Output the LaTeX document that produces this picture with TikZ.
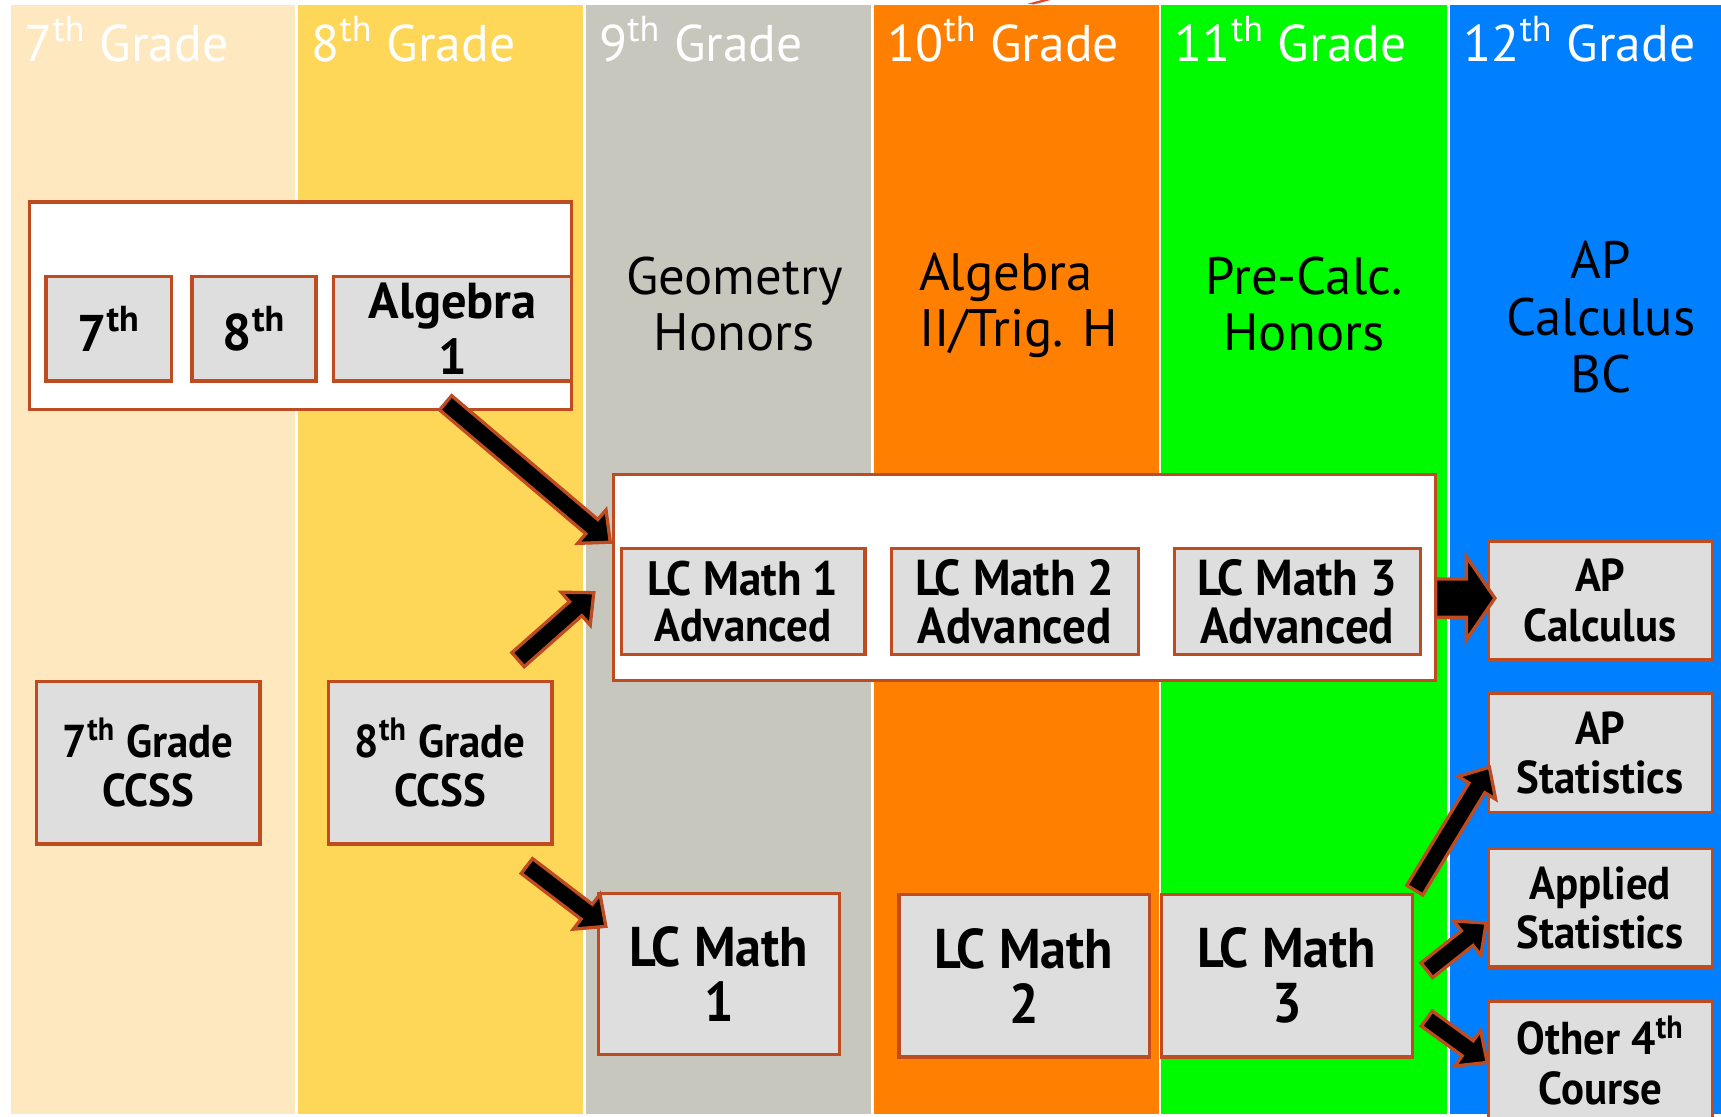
\documentclass[tikz,border=0pt]{standalone}
\usepackage{fontspec}
\setmainfont{PT Sans}
\newfontfamily\cf[FakeStretch=0.93]{PT Sans}
\usetikzlibrary{calc}
\definecolor{cA}{RGB}{254,232,192}
\definecolor{cB}{RGB}{254,215,88}
\definecolor{cC}{RGB}{199,199,190}
\definecolor{cD}{RGB}{255,127,0}
\definecolor{cE}{RGB}{0,250,0}
\definecolor{cF}{RGB}{0,128,255}
\definecolor{boxfill}{RGB}{222,222,222}
\definecolor{edgec}{RGB}{190,76,32}
\definecolor{redmark}{RGB}{230,70,40}
% #2 tail, #3 tip, #4 half shaft width, #5 half head width, #6 head length
\newcommand{\blockarrow}[6][]{%
  \coordinate (baC) at ($(#3)!#6!(#2)$);
  \filldraw[blk,#1] ($(#2)!#4!90:(#3)$) -- ($(baC)!#4!90:(#3)$) -- ($(baC)!#5!90:(#3)$) -- (#3)
    -- ($(baC)!#5!-90:(#3)$) -- ($(baC)!#4!-90:(#3)$) -- ($(#2)!#4!-90:(#3)$) -- cycle;}
\begin{document}
\begin{tikzpicture}[x=0.5pt,y=-0.5pt,
  hdr/.style={anchor=base west, inner sep=0, text=white, font=\fontsize{23.5}{28}\selectfont},
  coltext/.style={align=center, inner sep=0, font=\fontsize{24}{25.5}\selectfont},
  frame/.style={draw=edgec, fill=white, line width=1.5pt, inner sep=0},
  course/.style={draw=edgec, fill=boxfill, line width=1.5pt, inner sep=0, align=center},
  option/.style={course, minimum width=102pt, minimum height=54pt, font=\cf\bfseries\fontsize{21}{22.5}\selectfont},
  blk/.style={fill=black, draw=edgec, line width=1.5pt, line join=miter}
]
\useasboundingbox (0,0) rectangle (1568,1017);
\fill[white] (0,0) rectangle (1568,1017);
% grade bands
\fill[cA] (10,5) rectangle (269,1015);
\fill[cB] (271.5,5) rectangle (531,1015);
\fill[cC] (533.5,5) rectangle (794,1015);
\fill[cD] (796,5) rectangle (1055.5,1015);
\fill[cE] (1058,5) rectangle (1318.5,1015);
\fill[cF] (1321,5) rectangle (1568,1015);
\fill[redmark] (936,3.5) -- (949,0) -- (957,0) -- (942,4) -- cycle;
% headers
\node[hdr] (h7) at (22,56) {7\textsuperscript{th} Grade};
\node[hdr] (h8) at (283.5,56) {8\textsuperscript{th} Grade};
\node[hdr] (h9) at (545.5,56) {9\textsuperscript{th} Grade};
\node[hdr] (h10) at (808,56) {10\textsuperscript{th} Grade};
\node[hdr] (h11) at (1070,56) {11\textsuperscript{th} Grade};
\node[hdr] (h12) at (1333,56) {12\textsuperscript{th} Grade};
% honors track labels
\node[coltext] (geo) at (669,277) {Geometry\\Honors};
\node[coltext, align=left, anchor=west] (alg2) at (837,278) {Algebra\\II/Trig. H};
\node[coltext] (pre) at (1188,277) {Pre-Calc.\\Honors};
\node[coltext, font=\fontsize{24}{26}\selectfont] (apbc) at (1458.5,289) {AP\\Calculus\\BC};
% top accelerated frame
\node[frame, minimum width=247pt, minimum height=94.5pt] (fr1) at (274,278.5) {};
\node[course, minimum width=57pt, minimum height=47.5pt, font=\bfseries\fontsize{23.5}{25.5}\selectfont] (s7) at (99,299.5) {7\textsuperscript{th}};
\node[course, minimum width=56.5pt, minimum height=47.5pt, font=\bfseries\fontsize{23.5}{25.5}\selectfont] (s8) at (231.5,299.5) {8\textsuperscript{th}};
\node[course, minimum width=108.5pt, minimum height=47.5pt, font=\bfseries\fontsize{23}{25.5}\selectfont] (alg) at (412.5,299.5) {Algebra\\1};
% advanced frame
\node[frame, minimum width=374.5pt, minimum height=94pt] (fr2) at (933.5,526) {};
\node[course, minimum width=111pt, minimum height=48pt, font=\cf\bfseries\fontsize{22}{21}\selectfont] (lca1) at (677,548) {LC Math 1\\{\fontsize{21}{21}\selectfont Advanced}};
\node[course, minimum width=112.5pt, minimum height=48pt, font=\cf\bfseries\fontsize{23}{22}\selectfont] (lca2) at (924.5,548) {LC Math 2\\Advanced};
\node[course, minimum width=112pt, minimum height=48pt, font=\cf\bfseries\fontsize{23}{22}\selectfont] (lca3) at (1182,548) {LC Math 3\\Advanced};
% 12th grade options
\node[option] (apc) at (1458,547) {AP\\Calculus};
\node[option] (aps) at (1458,686) {AP\\Statistics};
\node[option] (apl) at (1458,827) {Applied\\Statistics};
\node[option] (oth) at (1458,966) {Other 4\textsuperscript{th}\\Course};
% standard track
\node[course, minimum width=102pt, minimum height=74pt, font=\cf\bfseries\fontsize{21}{22.5}\selectfont] (cc7) at (135,695) {7\textsuperscript{th} Grade\\CCSS};
\node[course, minimum width=102pt, minimum height=74pt, font=\cf\bfseries\fontsize{21}{22.5}\selectfont] (cc8) at (401,695) {8\textsuperscript{th} Grade\\CCSS};
\node[course, minimum width=110pt, minimum height=73.5pt, font=\cf\bfseries\fontsize{25.5}{25}\selectfont] (lc1) at (655,887.5) {LC Math\\1};
\node[course, minimum width=114pt, minimum height=74pt, font=\cf\bfseries\fontsize{25.5}{25}\selectfont] (lc2) at (933,889) {LC Math\\2};
\node[course, minimum width=114.5pt, minimum height=74pt, font=\cf\bfseries\fontsize{25.5}{25}\selectfont] (lc3) at (1172.5,889) {LC Math\\3};
% arrow end points
\coordinate (a1t) at (406,367);   \coordinate (a1h) at (556,494);
\coordinate (a2t) at (472,601);   \coordinate (a2h) at (541,540);
\coordinate (a3t) at (480,789);   \coordinate (a3h) at (552,844);
\coordinate (a4t) at (1308,545);  \coordinate (a4h) at (1362,545);
\coordinate (a5t) at (1289,811);  \coordinate (a5h) at (1357,699);
\coordinate (a6t) at (1300,884);  \coordinate (a6h) at (1354,841);
\coordinate (a7t) at (1300,928);  \coordinate (a7h) at (1355,968);
% arrows
\blockarrow{a1t}{a1h}{4.25pt}{10pt}{11pt}
\blockarrow{a2t}{a2h}{4.25pt}{10pt}{11pt}
\blockarrow{a3t}{a3h}{4.25pt}{10pt}{11pt}
\blockarrow{a4t}{a4h}{8.75pt}{19pt}{13pt}
\blockarrow{a5t}{a5h}{4.25pt}{10pt}{11pt}
\blockarrow{a6t}{a6h}{4.25pt}{10pt}{11pt}
\blockarrow{a7t}{a7h}{4.25pt}{10pt}{11pt}
\end{tikzpicture}
\end{document}
